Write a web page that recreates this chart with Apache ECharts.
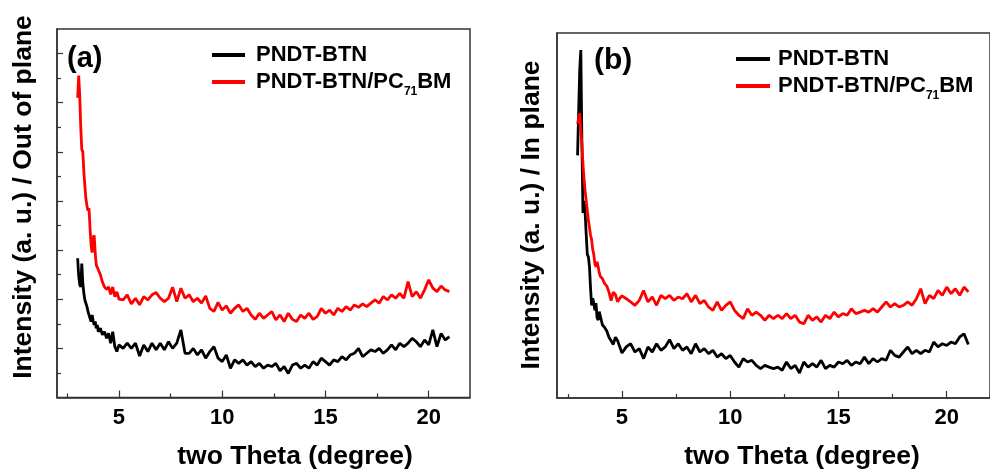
<!DOCTYPE html>
<html>
<head>
<meta charset="utf-8">
<script src="https://cdn.jsdelivr.net/npm/echarts@6/dist/echarts.min.js"></script>
<style>
  html, body { margin: 0; padding: 0; background: #fff; }
  #main { width: 990px; height: 472px; }
</style>
</head>
<body>
<div id="main"></div>
<script>
// two theta sample positions, panel (a)
const thetaA = [3.0, 3.05, 3.1, 3.15, 3.2, 3.25, 3.3, 3.35, 3.4, 3.45, 3.5, 3.55, 3.6, 3.65, 3.7, 3.75, 3.8, 3.85, 3.9, 3.95,
  4.0, 4.1, 4.2, 4.3, 4.4, 4.5, 4.6, 4.7, 4.8, 4.9, 5.0,
  5.2, 5.4, 5.6, 5.8, 6.0, 6.2, 6.4, 6.6, 6.8, 7.0, 7.2, 7.4, 7.6, 7.8, 8.0, 8.2, 8.4, 8.6, 8.8, 9.0,
  9.2, 9.4, 9.6, 9.8, 10.0, 10.2, 10.4, 10.6, 10.8, 11.0, 11.2, 11.4, 11.6, 11.8, 12.0, 12.2, 12.4, 12.6, 12.8, 13.0,
  13.2, 13.4, 13.6, 13.8, 14.0, 14.2, 14.4, 14.6, 14.8, 15.0, 15.2, 15.4, 15.6, 15.8, 16.0, 16.2, 16.4, 16.6, 16.8, 17.0,
  17.2, 17.4, 17.6, 17.8, 18.0, 18.2, 18.4, 18.6, 18.8, 19.0, 19.2, 19.4, 19.6, 19.8, 20.0, 20.2, 20.4, 20.6, 20.8, 21.0]
// out of plane, PNDT-BTN
const blackA = [5.67, 4.95, 4.6, 4.5, 5.45, 4.65, 4.24, 3.97, 3.9, 3.7, 3.5, 3.56, 3.22, 3.09, 3.36, 3.13, 2.95, 3.1, 2.82, 2.95,
  2.68, 2.82, 2.55, 2.68, 2.41, 2.61, 2.21, 2.68, 2.07, 1.87, 2.14,
  2.00, 2.21, 2.00, 2.21, 1.69, 2.14, 1.87, 2.21, 1.94, 2.21, 1.94, 2.27, 2.00, 2.21, 2.75, 1.80, 1.80, 2.00, 1.73, 1.94,
  1.60, 1.87, 2.07, 1.60, 1.46, 1.73, 1.19, 1.53, 1.39, 1.53, 1.32, 1.46, 1.26, 1.39, 1.19, 1.32, 1.26, 1.39, 1.09, 1.26,
  0.98, 1.32, 1.39, 1.19, 1.32, 1.19, 1.46, 1.32, 1.60, 1.46, 1.32, 1.53, 1.46, 1.66, 1.53, 1.73, 1.80, 2.00, 1.66, 1.80,
  1.94, 1.87, 2.00, 1.80, 1.94, 2.14, 1.94, 2.21, 2.07, 2.21, 2.41, 2.27, 2.07, 2.34, 2.14, 2.75, 2.07, 2.61, 2.34, 2.48]
// out of plane, PNDT-BTN/PC71BM
const redA = [12.2, 13.1, 12.3, 11.0, 10.1, 10.0, 9.2, 8.6, 8.1, 7.8, 7.6, 7.7, 6.9, 6.2, 5.9, 6.5, 6.6, 5.9, 5.4, 5.3,
  5.2, 5.0, 4.7, 4.5, 4.4, 4.5, 4.2, 4.5, 4.1, 4.3, 4.0,
  3.97, 4.18, 3.81, 4.04, 3.77, 4.11, 3.97, 4.18, 4.27, 4.04, 3.90, 4.04, 4.49, 3.90, 4.45, 4.04, 4.18, 3.90, 4.04, 3.84,
  4.13, 3.63, 3.50, 3.87, 3.56, 3.73, 3.43, 3.63, 3.77, 3.50, 3.63, 3.36, 3.18, 3.43, 3.22, 3.36, 3.50, 3.16, 3.36, 3.09,
  3.43, 3.18, 3.09, 3.36, 3.22, 3.43, 3.18, 3.29, 3.63, 3.43, 3.56, 3.36, 3.63, 3.50, 3.70, 3.56, 3.77, 3.67, 3.81, 3.70,
  3.84, 3.97, 3.84, 4.11, 3.97, 4.18, 4.04, 4.24, 4.04, 4.72, 4.11, 4.31, 4.04, 4.38, 4.79, 4.45, 4.31, 4.54, 4.38, 4.31]

// two theta sample positions, panel (b)
const thetaB = [2.95, 3.0, 3.05, 3.1, 3.15, 3.2, 3.25, 3.3, 3.35, 3.4, 3.45, 3.5, 3.55, 3.6, 3.65, 3.7, 3.75, 3.8, 3.85, 3.9, 3.95,
  4.0, 4.1, 4.2, 4.3, 4.4, 4.5, 4.6, 4.7, 4.8, 4.9, 5.0,
  5.2, 5.4, 5.6, 5.8, 6.0, 6.2, 6.4, 6.6, 6.8, 7.0, 7.2, 7.4, 7.6, 7.8, 8.0, 8.2, 8.4, 8.6, 8.8, 9.0,
  9.2, 9.4, 9.6, 9.8, 10.0, 10.2, 10.4, 10.6, 10.8, 11.0, 11.2, 11.4, 11.6, 11.8, 12.0, 12.2, 12.4, 12.6, 12.8, 13.0,
  13.2, 13.4, 13.6, 13.8, 14.0, 14.2, 14.4, 14.6, 14.8, 15.0, 15.2, 15.4, 15.6, 15.8, 16.0, 16.2, 16.4, 16.6, 16.8, 17.0,
  17.2, 17.4, 17.6, 17.8, 18.0, 18.2, 18.4, 18.6, 18.8, 19.0, 19.2, 19.4, 19.6, 19.8, 20.0, 20.2, 20.4, 20.6, 20.8, 21.0]
// in plane, PNDT-BTN
const blackB = [9.97, 11.8, 13.5, 14.3, 10.5, 7.6, 8.1, 7.6, 6.7, 5.9, 5.8, 5.4, 4.5, 3.8, 4.1, 3.9, 3.6, 3.9, 3.3, 3.2, 3.55,
  3.6, 3.0, 2.9, 2.75, 2.5, 2.35, 2.2, 2.5, 2.35, 2.1, 1.85,
  2.10, 2.23, 1.89, 2.03, 1.62, 2.10, 1.89, 2.23, 1.96, 2.10, 2.40, 2.03, 2.23, 1.96, 2.10, 1.82, 2.23, 1.89, 2.03, 1.82,
  1.96, 1.68, 1.82, 1.62, 1.75, 1.48, 1.27, 1.62, 1.48, 1.55, 1.34, 1.21, 1.34, 1.27, 1.21, 1.27, 1.14, 1.48, 1.21, 1.34,
  1.03, 1.48, 1.27, 1.41, 1.27, 1.55, 1.21, 1.34, 1.27, 1.48, 1.41, 1.55, 1.34, 1.48, 1.41, 1.68, 1.41, 1.62, 1.48, 1.62,
  1.55, 1.96, 1.75, 1.68, 1.89, 2.10, 1.82, 1.96, 1.82, 1.96, 1.89, 2.30, 2.10, 2.23, 2.16, 2.30, 2.23, 2.51, 2.64, 2.20]
// in plane, PNDT-BTN/PC71BM
const redB = [11.27, 11.5, 11.7, 11.0, 10.4, 9.6, 9.0, 8.5, 8.1, 7.7, 7.3, 7.0, 6.7, 6.5, 6.1, 5.9, 5.5, 5.4, 5.6, 5.4, 5.15,
  5.0, 4.9, 4.7, 4.6, 4.35, 4.0, 4.35, 4.25, 3.95, 4.1, 4.2,
  4.08, 3.95, 3.81, 4.01, 4.42, 3.95, 4.15, 3.81, 4.22, 4.08, 4.22, 4.01, 4.15, 4.08, 4.29, 3.95, 4.22, 3.88, 4.01, 3.74,
  3.60, 3.95, 3.60, 3.81, 3.95, 3.60, 3.40, 3.26, 3.67, 3.40, 3.53, 3.40, 3.19, 3.40, 3.26, 3.40, 3.26, 3.47, 3.26, 3.40,
  3.12, 3.05, 3.40, 3.19, 3.33, 3.12, 3.40, 3.26, 3.53, 3.33, 3.47, 3.40, 3.67, 3.47, 3.53, 3.60, 3.53, 3.67, 3.53, 3.74,
  3.95, 3.74, 3.88, 3.74, 3.81, 3.95, 3.81, 4.08, 4.49, 3.88, 4.22, 4.08, 4.42, 4.22, 4.56, 4.29, 4.49, 4.22, 4.56, 4.36]

const seriesNames = ['PNDT-BTN', 'PNDT-BTN/PC71BM']
const xMajorTicks = [5, 10, 15, 20]
const xMinorTicks = [2.5, 7.5, 12.5, 17.5]
const yMajorTicks = [2, 4, 6, 8, 10, 12, 14]
const yMinorTicks = [1, 3, 5, 7, 9, 11, 13]

const FONT = '"Liberation Sans", Arial, sans-serif'
const FRAME = '#333'

function pairs(t, v) {
  return t.map((x, i) => [x, v[i]])
}

function majorX(gridIndex) {
  return {
    gridIndex, type: 'value', min: 2, max: 22, position: 'bottom',
    axisLine: { show: true, onZero: false, lineStyle: { color: FRAME, width: 1.5 } },
    axisTick: { show: true, inside: true, length: 7, customValues: xMajorTicks, lineStyle: { color: FRAME, width: 1.2 } },
    axisLabel: { customValues: xMajorTicks, color: '#000', fontSize: 22, fontWeight: 'bold', fontFamily: FONT, margin: 9 },
    splitLine: { show: false }
  }
}
function minorX(gridIndex) {
  return {
    gridIndex, type: 'value', min: 2, max: 22, position: 'bottom',
    axisLine: { show: false, onZero: false },
    axisTick: { show: true, inside: true, length: 4, customValues: xMinorTicks, lineStyle: { color: FRAME, width: 1.2 } },
    axisLabel: { show: false },
    splitLine: { show: false }
  }
}

const legendRich = {
  n: { fontSize: 22, fontWeight: 'bold', fontFamily: FONT, color: '#000', lineHeight: 24 },
  s: { fontSize: 12, fontWeight: 'bold', fontFamily: FONT, color: '#000', lineHeight: 12, padding: [20, 0, 0, 0] }
}
function legendFmt(name) {
  if (name === 'PNDT-BTN/PC71BM') return '{n|PNDT-BTN/PC}{s|71}{n|BM}'
  return '{n|' + name + '}'
}

const chart = echarts.init(document.getElementById('main'))
const option = {
  animation: false,
  backgroundColor: '#fff',
  grid: [
    { left: 57, top: 29, width: 413, height: 368.5, show: true, borderColor: FRAME, borderWidth: 1.5 },
    { left: 557, top: 33, width: 434, height: 365, show: true, borderColor: FRAME, borderWidth: 1.5 }
  ],
  xAxis: [majorX(0), minorX(0), majorX(1), minorX(1)],
  yAxis: [
    {
      gridIndex: 0, type: 'value', min: 0, max: 15,
      axisLine: { show: true, onZero: false, lineStyle: { color: FRAME, width: 1.5 } },
      axisTick: { show: true, inside: true, length: 6, customValues: yMajorTicks, lineStyle: { color: FRAME, width: 1.2 } },
      axisLabel: { show: false },
      splitLine: { show: false }
    },
    {
      gridIndex: 0, type: 'value', min: 0, max: 15, position: 'left',
      axisLine: { show: false },
      axisTick: { show: true, inside: true, length: 4, customValues: yMinorTicks, lineStyle: { color: FRAME, width: 1.2 } },
      axisLabel: { show: false },
      splitLine: { show: false }
    },
    {
      gridIndex: 1, type: 'value', min: 0, max: 15,
      axisLine: { show: true, onZero: false, lineStyle: { color: FRAME, width: 1.5 } },
      axisTick: { show: false },
      axisLabel: { show: false },
      splitLine: { show: false }
    }
  ],
  legend: [
    {
      left: 212, top: 44, padding: 0, orient: 'vertical', icon: 'rect', itemWidth: 33, itemHeight: 4, itemGap: 0,
      selectedMode: false, data: seriesNames, formatter: legendFmt,
      textStyle: { rich: legendRich, padding: [0, 0, 0, 6] }
    },
    {
      left: 736, top: 48, padding: 0, orient: 'vertical', icon: 'rect', itemWidth: 34, itemHeight: 4, itemGap: 0,
      selectedMode: false, data: seriesNames, formatter: legendFmt,
      textStyle: { rich: legendRich, padding: [0, 0, 0, 3] }
    }
  ],
  series: [
    { name: seriesNames[0], type: 'line', xAxisIndex: 0, yAxisIndex: 0, data: pairs(thetaA, blackA), showSymbol: false, color: '#000', lineStyle: { width: 2.8 } },
    { name: seriesNames[1], type: 'line', xAxisIndex: 0, yAxisIndex: 0, data: pairs(thetaA, redA), showSymbol: false, color: '#ff0000', lineStyle: { width: 2.8 } },
    { name: seriesNames[0], type: 'line', xAxisIndex: 2, yAxisIndex: 2, data: pairs(thetaB, blackB), showSymbol: false, color: '#000', lineStyle: { width: 2.8 } },
    { name: seriesNames[1], type: 'line', xAxisIndex: 2, yAxisIndex: 2, data: pairs(thetaB, redB), showSymbol: false, color: '#ff0000', lineStyle: { width: 2.8 } }
  ],
  graphic: [
    { type: 'text', left: 67, top: 44, style: { text: '(a)', font: 'bold 29px ' + FONT, fill: '#000' } },
    { type: 'text', left: 594, top: 46, style: { text: '(b)', font: 'bold 30px ' + FONT, fill: '#000' } },
    { type: 'text', x: 295, y: 457, style: { text: 'two Theta (degree)', font: 'bold 26.5px ' + FONT, fill: '#000', align: 'center', verticalAlign: 'middle' } },
    { type: 'text', x: 802, y: 457, style: { text: 'two Theta (degree)', font: 'bold 26.5px ' + FONT, fill: '#000', align: 'center', verticalAlign: 'middle' } },
    { type: 'text', x: 24, y: 197, rotation: Math.PI / 2, style: { text: 'Intensity (a. u.) / Out of plane', font: 'bold 26.5px ' + FONT, fill: '#000', align: 'center', verticalAlign: 'middle' } },
    { type: 'text', x: 532, y: 215, rotation: Math.PI / 2, style: { text: 'Intensity (a. u.) / In plane', font: 'bold 26.5px ' + FONT, fill: '#000', align: 'center', verticalAlign: 'middle' } }
  ]
}
chart.setOption(option)
</script>
</body>
</html>
